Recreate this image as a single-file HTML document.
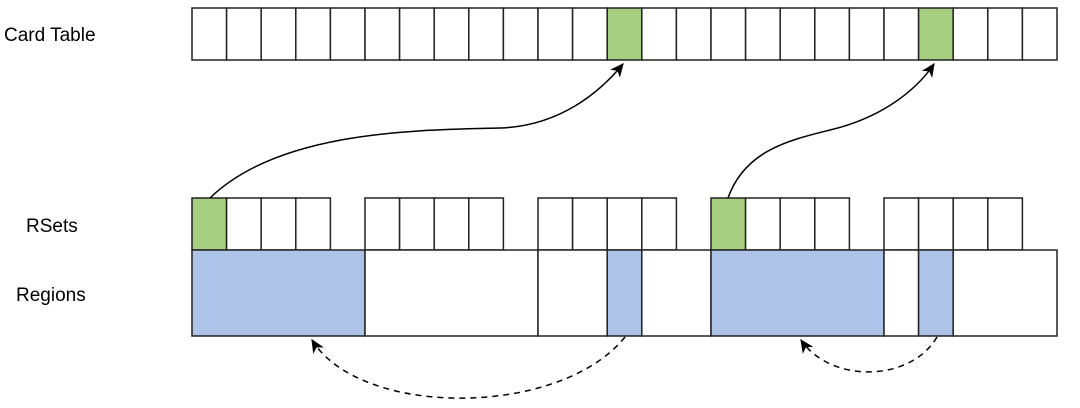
<!DOCTYPE html>
<html><head><style>
body{margin:0;background:#fff;}
svg{display:block;}
text{font-family:"Liberation Sans",Arial,sans-serif;font-size:19px;fill:#000;}
</style></head><body>
<svg width="1080" height="408" viewBox="0 0 1080 408" xmlns="http://www.w3.org/2000/svg">
<defs>
<marker id="a" markerWidth="15" markerHeight="14" refX="10" refY="5" orient="auto" markerUnits="userSpaceOnUse" viewBox="0 0 12 10">
<path d="M0,0 L11,5 L0,10 L3,5 Z" fill="#000"/>
</marker>
</defs>
<text x="4" y="41">Card Table</text>
<text x="26" y="232">RSets</text>
<text x="16" y="301">Regions</text>
<g id="cells" stroke="#222" stroke-width="1.5"></g>
<path d="M210,198 C280,130 420,130 500,128 C560,126 600,92 623,64" fill="none" stroke="#000" stroke-width="1.5" marker-end="url(#a)"/>
<path d="M728,198 C745,150 790,140 830,130 C880,118 915,92 934,64" fill="none" stroke="#000" stroke-width="1.5" marker-end="url(#a)"/>
<path d="M625,337 C560,418 360,418 312,340" fill="none" stroke="#000" stroke-width="1.5" stroke-dasharray="6,5" marker-end="url(#a)"/>
<path d="M937,337 C910,383 830,383 801,340" fill="none" stroke="#000" stroke-width="1.5" stroke-dasharray="6,5" marker-end="url(#a)"/>
</svg>
<script>
var g=document.getElementById('cells'),ns='http://www.w3.org/2000/svg';
function r(x,y,w,h,f){var e=document.createElementNS(ns,'rect');e.setAttribute('x',x);e.setAttribute('y',y);e.setAttribute('width',w);e.setAttribute('height',h);e.setAttribute('fill',f);g.appendChild(e);}
var cw=865/25;
for(var i=0;i<25;i++){r(192+i*cw,8,cw,52,(i==12||i==21)?'#a6cf82':'#fff');}
var starts=[0,5,10,15,20];
starts.forEach(function(s,k){for(var j=0;j<4;j++){r(192+(s+j)*cw,198,cw,52,((k==0||k==3)&&j==0)?'#a6cf82':'#fff');}});
var reg=[[0,5,1],[5,10,0],[10,12,0],[12,13,1],[13,15,0],[15,20,1],[20,21,0],[21,22,1],[22,25,0]];
reg.forEach(function(q){r(192+q[0]*cw,250,(q[1]-q[0])*cw,86,q[2]?'#aec3e8':'#fff');});
</script>
</body></html>
